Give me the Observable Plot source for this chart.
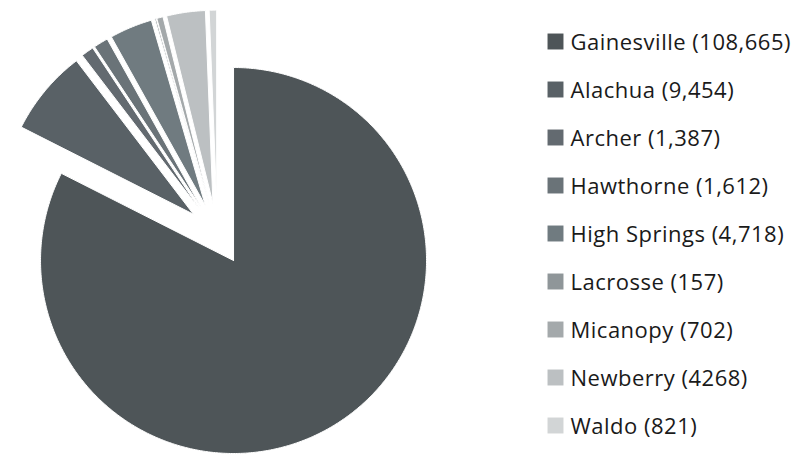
<!DOCTYPE html>
<html>
<head>
<meta charset="utf-8">
<script src="https://cdn.jsdelivr.net/npm/d3@7"></script>
<script src="https://cdn.jsdelivr.net/npm/@observablehq/plot@0.6"></script>
<style>
  html, body { margin: 0; padding: 0; background: #fff; }
  #chart { width: 803px; height: 454px; }
</style>
</head>
<body>
<div id="chart"></div>
<script>
// ---- data ----
const names = ["Gainesville", "Alachua", "Archer", "Hawthorne", "High Springs", "Lacrosse", "Micanopy", "Newberry", "Waldo"];
const values = [108665, 9454, 1387, 1612, 4718, 157, 702, 4268, 821];
const valueLabels = ["108,665", "9,454", "1,387", "1,612", "4,718", "157", "702", "4268", "821"];
const colors = ["#4e5558", "#596166", "#636a70", "#6a7378", "#707b80", "#8f9699", "#a4a9ab", "#bcc0c2", "#d2d5d6"];

// ---- layout ----
const W = 803, H = 454;
const cx = 216.8, cy = 233.6, R = 193, explode = 31;
const legendX = 555, legendTextX = 570, legendY0 = 41, legendStep = 48;

const table = names.map((n, i) => ({name: n, value: values[i], label: `${n} (${valueLabels[i]})`, i}));
const arcs = d3.pie().sort(null).value(d => d.value)(table);

// polygon points for each exploded slice
const pts = [];
arcs.forEach(a => {
  const mid = (a.startAngle + a.endAngle) / 2;
  const ox = cx + explode * Math.sin(mid);
  const oy = cy - explode * Math.cos(mid);
  const n = Math.max(2, Math.ceil((a.endAngle - a.startAngle) / (Math.PI / 360)));
  pts.push({name: a.data.name, x: ox, y: oy});
  for (let k = 0; k <= n; k++) {
    const t = a.startAngle + (a.endAngle - a.startAngle) * k / n;
    pts.push({name: a.data.name, x: ox + R * Math.sin(t), y: oy - R * Math.cos(t)});
  }
  pts.push({name: a.data.name, x: ox, y: oy});
});

const chart = Plot.plot({
  width: W,
  height: H,
  margin: 0,
  x: {domain: [0, W], range: [0, W], axis: null},
  y: {domain: [0, H], range: [0, H], axis: null},
  color: {domain: names, range: colors},
  style: {background: "#fff", letterSpacing: "0.5px"},
  marks: [
    Plot.line(pts, {x: "x", y: "y", z: "name", fill: "name", stroke: "#fff", strokeWidth: 1, strokeLinejoin: "miter"}),
    Plot.dot(table, {x: () => legendX, y: d => legendY0 + d.i * legendStep, symbol: "square", r: 9, fill: "name", stroke: null}),
    Plot.text(table, {x: () => legendTextX, y: d => legendY0 + d.i * legendStep, text: "label", textAnchor: "start", fontSize: 22, fontFamily: "Open Sans", fill: "#1a1a1a", dy: 1})
  ]
});
document.getElementById("chart").appendChild(chart);
</script>
</body>
</html>
